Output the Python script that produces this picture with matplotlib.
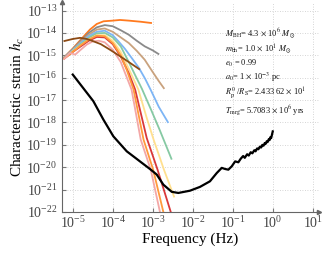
import numpy as np
import matplotlib
matplotlib.use("Agg")
import matplotlib.pyplot as plt

plt.rcParams['font.family'] = ['Liberation Serif', 'DejaVu Serif']
plt.rcParams['mathtext.fontset'] = 'stix'

# log10 values
black_logf = [-5.0, -4.485, -4.235, -3.985, -3.65, -3.40, -3.32, -3.07, -2.90, -2.735, -2.525,
              -2.36, -2.07, -1.82, -1.57, -1.40, -1.275, -1.19, -1.11, -1.025, -0.94, -0.86,
              -0.80, -0.74, -0.70, -0.64, -0.60, -0.55, -0.51, -0.46, -0.43, -0.39, -0.36,
              -0.32, -0.29, -0.26, -0.23, -0.20, -0.18, -0.15, -0.13, -0.10, -0.08, -0.06,
              -0.04, -0.02, 0.0]
black_logh = [-15.86, -17.05, -17.87, -18.62, -19.29, -19.63, -19.74, -20.08, -20.33, -20.78, -21.10,
              -21.15, -21.05, -20.88, -20.63, -20.26, -20.03, -20.08, -20.11, -19.96, -19.74, -19.78,
              -19.62, -19.50, -19.58, -19.42, -19.48, -19.33, -19.38, -19.24, -19.29, -19.16, -19.20,
              -19.08, -19.12, -19.00, -19.04, -18.92, -18.96, -18.84, -18.88, -18.75, -18.79, -18.66,
              -18.70, -18.55, -18.40]

orange_top_logf = [-5.23, -5.0, -4.8, -4.57, -4.4, -4.23, -4.0, -3.82, -3.6, -3.3, -3.02]
orange_top_logh = [-15.12, -14.7, -14.3, -13.85, -13.6, -13.48, -13.45, -13.42, -13.45, -13.5, -13.56]

gray_logf = [-5.23, -5.0, -4.8, -4.6, -4.4, -4.2, -4.0, -3.8, -3.6, -3.4, -3.2, -3.0, -2.84]
gray_logh = [-15.12, -14.72, -14.35, -14.0, -13.75, -13.65, -13.7, -13.88, -14.08, -14.35, -14.6, -14.78, -14.96]

tan_logf = [-5.23, -5.0, -4.8, -4.6, -4.4, -4.2, -4.0, -3.8, -3.6, -3.4, -3.2, -3.0, -2.85, -2.71]
tan_logh = [-15.14, -14.75, -14.4, -14.08, -13.85, -13.8, -13.95, -14.2, -14.45, -14.8, -15.2, -15.75, -16.15, -16.5]

blue_logf = [-5.23, -5.0, -4.8, -4.6, -4.4, -4.2, -4.0, -3.86, -3.7, -3.53, -3.35, -3.19, -3.05, -2.85, -2.61]
blue_logh = [-15.15, -14.77, -14.45, -14.15, -13.95, -13.9, -14.1, -14.37, -14.7, -15.11, -15.55, -16.05, -16.55, -17.3, -18.02]

green_logf = [-5.23, -5.0, -4.8, -4.6, -4.4, -4.2, -4.0, -3.8, -3.6, -3.45, -3.27, -3.05, -2.83, -2.525]
green_logh = [-15.16, -14.8, -14.5, -14.22, -14.02, -14.0, -14.2, -14.6, -15.3, -15.85, -16.5, -17.4, -18.32, -19.66]

yellow_logf = [-5.23, -5.0, -4.8, -4.6, -4.4, -4.2, -4.0, -3.8, -3.6, -3.36, -3.15, -2.98, -2.72, -2.46]
yellow_logh = [-15.17, -14.82, -14.55, -14.3, -14.1, -14.1, -14.35, -14.85, -15.6, -16.53, -17.8, -18.76, -20.11, -21.35]

red_logf = [-5.23, -5.0, -4.8, -4.6, -4.4, -4.2, -4.0, -3.8, -3.6, -3.44, -3.15, -2.88, -2.55, -2.5]
red_logh = [-15.17, -14.85, -14.6, -14.35, -14.18, -14.2, -14.5, -15.05, -15.8, -16.53, -18.7, -20.11, -22.0, -22.3]

orange_logf = [-5.23, -5.0, -4.8, -4.6, -4.4, -4.2, -4.0, -3.8, -3.65, -3.48, -3.23, -2.99, -2.735, -2.69]
orange_logh = [-15.16, -14.85, -14.55, -14.3, -14.12, -14.15, -14.45, -15.0, -15.65, -16.53, -18.77, -20.11, -22.0, -22.3]

pink_logf = [-5.23, -5.07, -4.94, -4.8, -4.65, -4.5, -4.35, -4.2, -4.0, -3.8, -3.53, -3.30, -3.05, -2.82, -2.78]
pink_logh = [-15.19, -14.89, -14.97, -14.75, -14.52, -14.38, -14.35, -14.42, -14.75, -15.3, -16.53, -18.77, -20.11, -22.0, -22.3]

brown_logf = [-5.23, -5.0, -4.82, -4.65, -4.49, -4.3, -4.07, -3.82, -3.6, -3.32]
brown_logh = [-14.37, -14.27, -14.22, -14.27, -14.37, -14.5, -14.75, -15.04, -15.3, -15.64]

curves = [
    (orange_top_logf, orange_top_logh, '#ff7a1f'),
    (gray_logf, gray_logh, '#8a8a8a'),
    (tan_logf, tan_logh, '#c9a27e'),
    (blue_logf, blue_logh, '#7db5f5'),
    (green_logf, green_logh, '#86c9a3'),
    (yellow_logf, yellow_logh, '#ffe08f'),
    (red_logf, red_logh, '#d9383a'),
    (orange_logf, orange_logh, '#ff9a3c'),
    (pink_logf, pink_logh, '#f3a7a7'),
    (brown_logf, brown_logh, '#8c4a14'),
]

params_text = ("$M_{\\rm BH}$= 4.3 $\\times$ 10$^6$ $M_\\odot$\n"
               "$m_{\\rm bh}$= 1.0 $\\times$ 10$^1$ $M_\\odot$\n"
               "$e_0$ = 0.99\n"
               "$a_0$= 1 $\\times$ 10$^{-3}$ pc\n"
               "$R_{\\rm p}^0$ /$R_{\\rm S}$= 2.433 62 $\\times$ 10$^1$\n"
               "$T_{\\rm mrg}$= 5.7083 $\\times$ 10$^6$ yrs")

fig = plt.figure(figsize=(3.25, 2.56), dpi=100)
ax = fig.add_axes([0.191, 0.172, 0.79, 0.82])

for lf, lh, c in curves:
    ax.plot(10.0 ** np.array(lf), 10.0 ** np.array(lh), color=c, lw=1.3, solid_capstyle='butt')
ax.plot(10.0 ** np.array(black_logf), 10.0 ** np.array(black_logh), color='black', lw=1.6)

ax.set_xscale('log')
ax.set_yscale('log')
ax.set_xlim(10 ** -5.267, 10 ** 1.152)
ax.set_ylim(1e-22, 10 ** -12.62)
ax.set_xticks([10.0 ** k for k in range(-5, 2)])
ax.set_yticks([10.0 ** k for k in range(-22, -12)])
ax.grid(True, which='major', color='#c8c8c8', ls=(0, (1, 2)), lw=0.6)
ax.tick_params(which='both', direction='in', colors='#777777', labelcolor='#444444', labelsize=10)
ax.tick_params(which='major', length=3)
ax.tick_params(which='minor', length=1.5)
ax.tick_params(axis='x', pad=2)

for s in ['top', 'right']:
    ax.spines[s].set_visible(False)
for s in ['left', 'bottom']:
    ax.spines[s].set_color('#666666')
    ax.spines[s].set_linewidth(0.8)
ax.plot(1, 0, marker='>', color='#666666', ms=3, transform=ax.transAxes, clip_on=False)
ax.plot(0, 1, marker='^', color='#666666', ms=3, transform=ax.transAxes, clip_on=False)

ax.set_xlabel('Frequency (Hz)', fontsize=11, labelpad=1)
ax.set_ylabel('Characteristic strain $h_c$', fontsize=11, labelpad=0)

ax.text(0.636, 0.885, params_text, transform=ax.transAxes, fontsize=6,
        va='top', ha='left', linespacing=1.2, color='#111111')

fig.savefig('out.png', dpi=100)
